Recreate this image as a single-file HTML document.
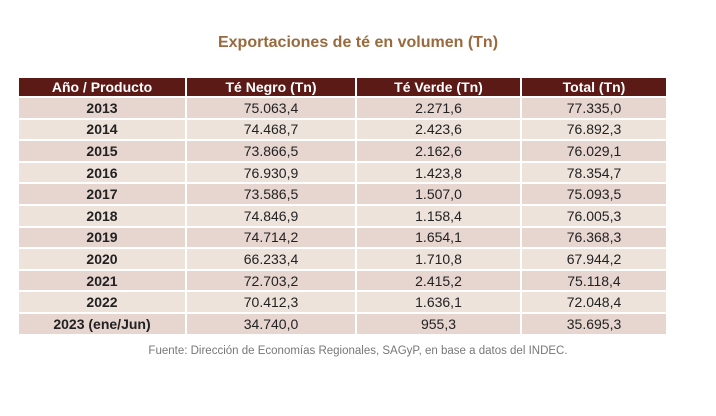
<!DOCTYPE html>
<html><head><meta charset="utf-8"><style>
body{margin:0;width:716px;height:416px;background:#fff;font-family:"Liberation Sans",sans-serif;position:relative;overflow:hidden}
.t{position:absolute;top:34px;left:0;width:716px;text-align:center;color:#9a6a3e;font-weight:bold;font-size:16px}
table{position:absolute;left:17px;top:78px;width:649px;border-collapse:collapse;table-layout:fixed}
td,th{height:19.6px;padding:0;text-align:center;font-size:14px;color:#222;border:2px solid #fff;border-top:0;border-bottom:2px solid #fff}
th{background:#5c1a16;color:#fff;font-weight:bold;height:18px}
td:first-child{font-weight:bold}
tr:nth-child(even) td{background:#e7d5d0}
tr:nth-child(odd) td{background:#ede3db}
.f{position:absolute;top:345px;left:0;width:716px;text-align:center;font-size:11.5px;color:#777}
</style></head><body>
<div class="t">Exportaciones de té en volumen (Tn)</div>
<table>
<colgroup><col style="width:168px"><col style="width:170px"><col style="width:165px"><col style="width:146px"></colgroup>
<tr><th>Año / Producto</th><th>Té Negro (Tn)</th><th>Té Verde (Tn)</th><th>Total (Tn)</th></tr>
<tr><td>2013</td><td>75.063,4</td><td>2.271,6</td><td>77.335,0</td></tr>
<tr><td>2014</td><td>74.468,7</td><td>2.423,6</td><td>76.892,3</td></tr>
<tr><td>2015</td><td>73.866,5</td><td>2.162,6</td><td>76.029,1</td></tr>
<tr><td>2016</td><td>76.930,9</td><td>1.423,8</td><td>78.354,7</td></tr>
<tr><td>2017</td><td>73.586,5</td><td>1.507,0</td><td>75.093,5</td></tr>
<tr><td>2018</td><td>74.846,9</td><td>1.158,4</td><td>76.005,3</td></tr>
<tr><td>2019</td><td>74.714,2</td><td>1.654,1</td><td>76.368,3</td></tr>
<tr><td>2020</td><td>66.233,4</td><td>1.710,8</td><td>67.944,2</td></tr>
<tr><td>2021</td><td>72.703,2</td><td>2.415,2</td><td>75.118,4</td></tr>
<tr><td>2022</td><td>70.412,3</td><td>1.636,1</td><td>72.048,4</td></tr>
<tr><td>2023 (ene/Jun)</td><td>34.740,0</td><td>955,3</td><td>35.695,3</td></tr>
</table>
<div class="f">Fuente: Dirección de Economías Regionales, SAGyP, en base a datos del INDEC.</div>
</body></html>
